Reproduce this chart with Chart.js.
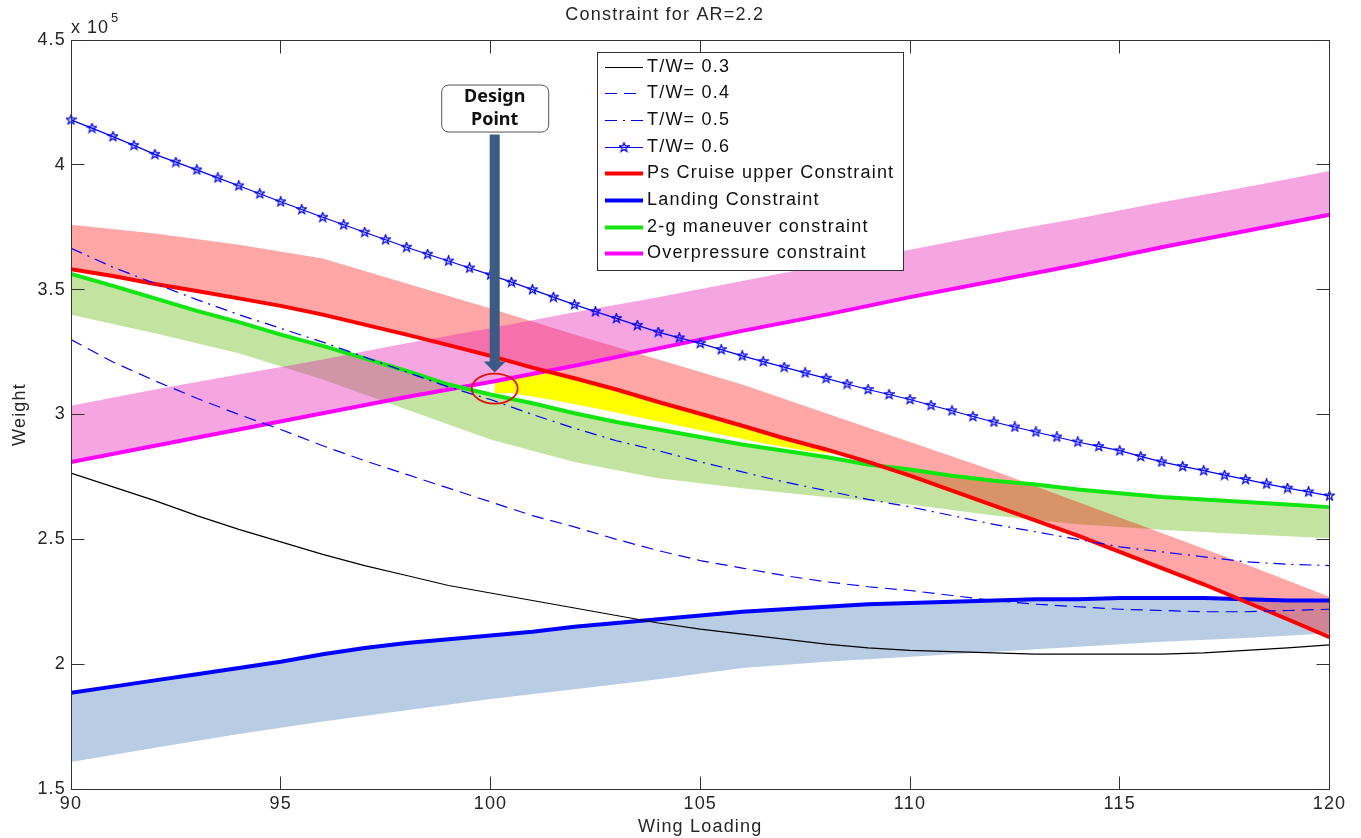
<!DOCTYPE html>
<html>
<head>
<meta charset="utf-8">
<title>Constraint for AR=2.2</title>
<script src="https://cdn.jsdelivr.net/npm/chart.js@4.4.1/dist/chart.umd.min.js"></script>
<style>
  html, body { margin: 0; padding: 0; background: #fff; }
  #wrap { width: 1361px; height: 838px; }
</style>
</head>
<body>
<div id="wrap"><canvas id="chart" width="1361" height="838"></canvas></div>
<script>
// weights are in units of 10^5 (see the "x 10^5" note on the y axis)
const wingLoading = [90,91,92,93,94,95,96,97,98,99,100,101,102,103,104,105,106,107,108,109,110,111,112,113,114,115,116,117,118,119,120];
const tw03 = [2.765,2.71,2.655,2.595,2.54,2.49,2.44,2.395,2.355,2.315,2.285,2.255,2.225,2.195,2.165,2.14,2.12,2.10,2.08,2.065,2.055,2.05,2.045,2.04,2.04,2.04,2.04,2.045,2.055,2.065,2.077];
const tw04 = [3.30,3.21,3.135,3.065,3.00,2.94,2.875,2.815,2.76,2.705,2.65,2.595,2.55,2.50,2.455,2.415,2.385,2.355,2.33,2.31,2.295,2.275,2.255,2.24,2.23,2.22,2.215,2.21,2.21,2.215,2.22];
const tw05 = [3.666,3.59,3.525,3.46,3.40,3.345,3.29,3.23,3.17,3.11,3.06,3.00,2.945,2.895,2.855,2.81,2.77,2.73,2.695,2.66,2.63,2.595,2.56,2.53,2.50,2.47,2.45,2.43,2.41,2.40,2.395];
const cruiseUpper = [3.582,3.555,3.523,3.495,3.465,3.435,3.40,3.36,3.32,3.278,3.235,3.188,3.145,3.10,3.05,3.003,2.955,2.905,2.86,2.81,2.755,2.695,2.635,2.575,2.515,2.45,2.385,2.32,2.25,2.18,2.108];
const landing = [1.885,1.91,1.935,1.96,1.985,2.01,2.04,2.065,2.085,2.10,2.115,2.13,2.15,2.165,2.18,2.195,2.21,2.22,2.23,2.24,2.245,2.25,2.255,2.26,2.26,2.265,2.265,2.265,2.26,2.255,2.255];
const maneuver2g = [3.563,3.515,3.465,3.415,3.37,3.32,3.275,3.225,3.175,3.12,3.08,3.045,3.005,2.97,2.94,2.91,2.88,2.855,2.83,2.80,2.78,2.755,2.735,2.72,2.70,2.685,2.67,2.66,2.65,2.64,2.629];

// T/W = 0.6 is plotted with a marker every half unit
const wingLoadingFine = [90,90.5,91,91.5,92,92.5,93,93.5,94,94.5,95,95.5,96,96.5,97,97.5,98,98.5,99,99.5,100,100.5,101,101.5,102,102.5,103,103.5,104,104.5,105,105.5,106,106.5,107,107.5,108,108.5,109,109.5,110,110.5,111,111.5,112,112.5,113,113.5,114,114.5,115,115.5,116,116.5,117,117.5,118,118.5,119,119.5,120];
const tw06 = [4.18,4.147,4.113,4.078,4.042,4.011,3.98,3.948,3.916,3.884,3.852,3.821,3.79,3.76,3.73,3.70,3.67,3.642,3.615,3.587,3.559,3.53,3.50,3.47,3.44,3.412,3.385,3.357,3.33,3.307,3.285,3.26,3.235,3.212,3.19,3.167,3.145,3.122,3.10,3.08,3.06,3.037,3.015,2.992,2.97,2.95,2.93,2.91,2.89,2.872,2.855,2.832,2.81,2.792,2.775,2.757,2.74,2.722,2.705,2.69,2.674];

// shaded constraint bands
const bandX = [90,92,94,96,98,100,102,104,106,108,110,112,114,116,118,120];
const overpressure = [2.81,2.875,2.94,3.005,3.07,3.13,3.195,3.265,3.335,3.40,3.47,3.535,3.60,3.67,3.735,3.80];
const overpressureTop = [3.035,3.10,3.16,3.22,3.285,3.345,3.41,3.47,3.535,3.60,3.66,3.725,3.785,3.85,3.91,3.975];
const cruiseBandTop = [3.76,3.725,3.68,3.625,3.525,3.425,3.32,3.22,3.12,3.005,2.89,2.775,2.65,2.525,2.40,2.27];
const cruiseBandBottom = [3.582,3.523,3.465,3.40,3.32,3.235,3.145,3.05,2.955,2.86,2.755,2.635,2.515,2.385,2.25,2.108];
const maneuverBandTop = [3.563,3.465,3.37,3.275,3.175,3.08,3.005,2.94,2.88,2.83,2.78,2.735,2.70,2.67,2.65,2.629];
const maneuverBandBottom = [3.40,3.325,3.245,3.14,3.02,2.90,2.81,2.745,2.705,2.67,2.64,2.595,2.56,2.538,2.52,2.504];
const landingBandTop = [1.885,1.935,1.985,2.04,2.085,2.115,2.15,2.18,2.21,2.23,2.245,2.255,2.26,2.265,2.26,2.255];
const landingBandBottom = [1.608,1.665,1.72,1.77,1.815,1.86,1.90,1.94,1.985,2.01,2.03,2.05,2.07,2.09,2.105,2.124];

// feasible (yellow) region
const feasibleX = [100.1,100.5,101.5,102.5,103.5,104.5,105.5,106.5,107.5,108.6];
const feasibleTop = [3.137,3.152,3.175,3.122,3.075,3.027,2.98,2.93,2.882,2.835];
const feasibleBottom = [3.085,3.085,3.058,3.025,2.99,2.955,2.92,2.885,2.855,2.835];

const designPoint = { x: 100.1, y: 3.104 };

const xTicks = { min: 90, max: 120, step: 5 };
const yTicks = { min: 1.5, max: 4.5, step: 0.5 };

const fam = "'Liberation Sans', Arial, sans-serif";
const ink = '#262626';

const pts = (xs, ys) => xs.map((x, i) => ({ x: x, y: ys[i] }));

function lineSet(label, xs, ys, color, width, dash, extra) {
    return Object.assign({
        label: label,
        data: pts(xs, ys),
        borderColor: color,
        backgroundColor: color,
        borderWidth: width,
        borderDash: dash || [],
        pointRadius: 0,
        fill: false,
        order: 1,
        inLegend: true
    }, extra || {});
}

function areaPair(xs, top, bottom, color, order) {
    return [
        { label: '', data: pts(xs, top), borderWidth: 0, borderColor: 'transparent', pointRadius: 0,
          backgroundColor: color, fill: '+1', order: order, inLegend: false },
        { label: '', data: pts(xs, bottom), borderWidth: 0, borderColor: 'transparent', pointRadius: 0,
          fill: false, order: order, inLegend: false }
    ];
}

function makeStar() {
    const c = document.createElement('canvas');
    c.width = 11; c.height = 11;
    const g = c.getContext('2d');
    g.beginPath();
    for (let k = 0; k < 10; k++) {
        const r = k % 2 ? 2 : 5;
        const a = -Math.PI / 2 + k * Math.PI / 5;
        const px = 5.5 + r * Math.cos(a), py = 5.5 + r * Math.sin(a);
        if (k === 0) g.moveTo(px, py); else g.lineTo(px, py);
    }
    g.closePath();
    g.strokeStyle = '#0000ff';
    g.lineWidth = 1.2;
    g.stroke();
    return c;
}
const starImg = makeStar();

const datasets = [
    ...areaPair(bandX, overpressureTop, overpressure, 'rgba(230,32,180,0.4)', 20),
    ...areaPair(bandX, cruiseBandTop, cruiseBandBottom, 'rgba(255,0,0,0.35)', 20),
    ...areaPair(bandX, maneuverBandTop, maneuverBandBottom, 'rgba(135,201,65,0.5)', 20),
    ...areaPair(bandX, landingBandTop, landingBandBottom, 'rgba(113,153,201,0.5)', 20),
    ...areaPair(feasibleX, feasibleTop, feasibleBottom, '#ffff00', 5),
    lineSet('T/W= 0.3', wingLoading, tw03, '#000000', 1.2),
    lineSet('T/W= 0.4', wingLoading, tw04, '#0000ff', 1.2, [12, 7]),
    lineSet('T/W= 0.5', wingLoading, tw05, '#0000ff', 1.2, [12, 6, 2, 6]),
    lineSet('T/W= 0.6', wingLoadingFine, tw06, '#0000ff', 1.2, null,
        { pointRadius: 5, pointStyle: starImg, clip: 6, star: true }),
    lineSet('Ps Cruise upper Constraint', wingLoading, cruiseUpper, '#ff0000', 4),
    lineSet('Landing Constraint', wingLoading, landing, '#0000ff', 4),
    lineSet('2-g maneuver constraint', wingLoading, maneuver2g, '#11e611', 4),
    lineSet('Overpressure constraint', bandX, overpressure, '#ff00ff', 4)
];

const matlabFrame = {
    id: 'matlabFrame',
    beforeDraw(chart) {
        chart.ctx.letterSpacing = '1.2px';
    },
    afterDatasetsDraw(chart) {
        const { ctx, chartArea: a, scales } = chart;
        const xs = scales.x, ys = scales.y;
        const L = Math.floor(a.left) + 0.5, R = Math.floor(a.right) + 0.5;
        const T = Math.floor(a.top) + 0.5, B = Math.floor(a.bottom) + 0.5;
        ctx.save();
        ctx.letterSpacing = '0px';
        ctx.strokeStyle = '#333';
        ctx.lineWidth = 1;
        ctx.setLineDash([]);
        ctx.strokeRect(L, T, R - L, B - T);
        ctx.beginPath();
        xs.ticks.forEach(t => {
            const px = Math.floor(xs.getPixelForValue(t.value)) + 0.5;
            ctx.moveTo(px, B); ctx.lineTo(px, B - 13);
            ctx.moveTo(px, T); ctx.lineTo(px, T + 13);
        });
        ys.ticks.forEach(t => {
            const py = Math.floor(ys.getPixelForValue(t.value)) + 0.5;
            ctx.moveTo(L, py); ctx.lineTo(L + 13, py);
            ctx.moveTo(R, py); ctx.lineTo(R - 13, py);
        });
        ctx.stroke();

        // design point marker
        const cx = xs.getPixelForValue(designPoint.x);
        const cy = ys.getPixelForValue(designPoint.y);
        ctx.beginPath();
        ctx.ellipse(cx, cy, 23, 15, 0, 0, Math.PI * 2);
        ctx.strokeStyle = '#e01010';
        ctx.lineWidth = 1.8;
        ctx.stroke();

        ctx.fillStyle = '#3b5b85';
        ctx.fillRect(cx - 5, cy - 254, 10, 228);
        ctx.beginPath();
        ctx.moveTo(cx - 11, cy - 27);
        ctx.lineTo(cx + 11, cy - 27);
        ctx.lineTo(cx, cy - 16);
        ctx.closePath();
        ctx.fill();

        const bw = 107, bh = 47, bx = cx - bw / 2, by = cy - 304;
        ctx.beginPath();
        ctx.roundRect(bx + 0.5, by + 0.5, bw, bh, 7);
        ctx.fillStyle = '#ffffff';
        ctx.fill();
        ctx.strokeStyle = '#555';
        ctx.lineWidth = 1;
        ctx.stroke();
        ctx.fillStyle = '#111';
        ctx.font = "bold 18px 'Noto Sans', 'Open Sans', sans-serif";
        ctx.textAlign = 'center';
        ctx.textBaseline = 'middle';
        ctx.fillText('Design', cx, cy - 292);
        ctx.fillText('Point', cx, cy - 269);
        ctx.restore();
    },
    afterDraw(chart) {
        const { ctx, chartArea: a } = chart;
        ctx.save();
        // exponent note
        ctx.letterSpacing = '1px';
        ctx.fillStyle = ink;
        ctx.textAlign = 'left';
        ctx.textBaseline = 'alphabetic';
        ctx.font = '18px ' + fam;
        ctx.fillText('x 10', a.left, 33);
        ctx.font = '13px ' + fam;
        ctx.fillText('5', a.left + 40, 22);

        // legend
        const lx = 597.5, ly = 52.5, lw = 306, lh = 218;
        ctx.fillStyle = '#ffffff';
        ctx.fillRect(lx, ly, lw, lh);
        ctx.strokeStyle = '#333';
        ctx.lineWidth = 1;
        ctx.setLineDash([]);
        ctx.strokeRect(lx, ly, lw, lh);
        const rows = chart.data.datasets.filter(d => d.inLegend);
        ctx.font = '18px ' + fam;
        ctx.letterSpacing = '1.2px';
        ctx.textBaseline = 'middle';
        rows.forEach((d, i) => {
            const ry = Math.round(66.7 + i * 26.65) + 0.5;
            ctx.beginPath();
            ctx.strokeStyle = d.borderColor;
            ctx.lineWidth = d.borderWidth;
            ctx.setLineDash(d.borderDash || []);
            ctx.moveTo(605, ry);
            ctx.lineTo(643, ry);
            ctx.stroke();
            if (d.star) ctx.drawImage(starImg, 624 - 5.5, ry - 5.5);
            ctx.setLineDash([]);
            ctx.fillStyle = '#111';
            ctx.fillText(d.label, 647, ry);
        });
        ctx.restore();
    }
};

new Chart(document.getElementById('chart'), {
    type: 'line',
    data: { datasets: datasets },
    options: {
        responsive: false,
        animation: false,
        devicePixelRatio: 1,
        events: [],
        layout: { padding: { left: 0, right: 31.5, top: 0, bottom: 0 } },
        elements: { line: { tension: 0 } },
        plugins: {
            legend: { display: false },
            tooltip: { enabled: false },
            title: {
                display: true,
                text: 'Constraint for AR=2.2',
                color: ink,
                font: { family: fam, size: 18, weight: 'normal' },
                padding: { top: 4.5, bottom: 13.9 }
            }
        },
        scales: {
            x: {
                type: 'linear',
                min: xTicks.min,
                max: xTicks.max,
                ticks: { stepSize: xTicks.step, color: ink, font: { family: fam, size: 18 }, padding: 4, maxRotation: 0 },
                grid: { display: false, drawTicks: false },
                border: { display: false },
                title: { display: true, text: 'Wing Loading', color: ink, font: { family: fam, size: 18 }, padding: { top: 0, bottom: 0 } },
                afterFit: s => { s.height = 49; }
            },
            y: {
                type: 'linear',
                min: yTicks.min,
                max: yTicks.max,
                ticks: { stepSize: yTicks.step, color: ink, font: { family: fam, size: 18 }, padding: 5,
                         callback: v => String(Math.round(v * 10) / 10) },
                grid: { display: false, drawTicks: false },
                border: { display: false },
                title: { display: true, text: 'Weight', color: ink, font: { family: fam, size: 18 }, padding: { top: 9, bottom: 0 } },
                afterFit: s => { s.width = 71; }
            }
        }
    },
    plugins: [matlabFrame]
});
</script>
</body>
</html>
